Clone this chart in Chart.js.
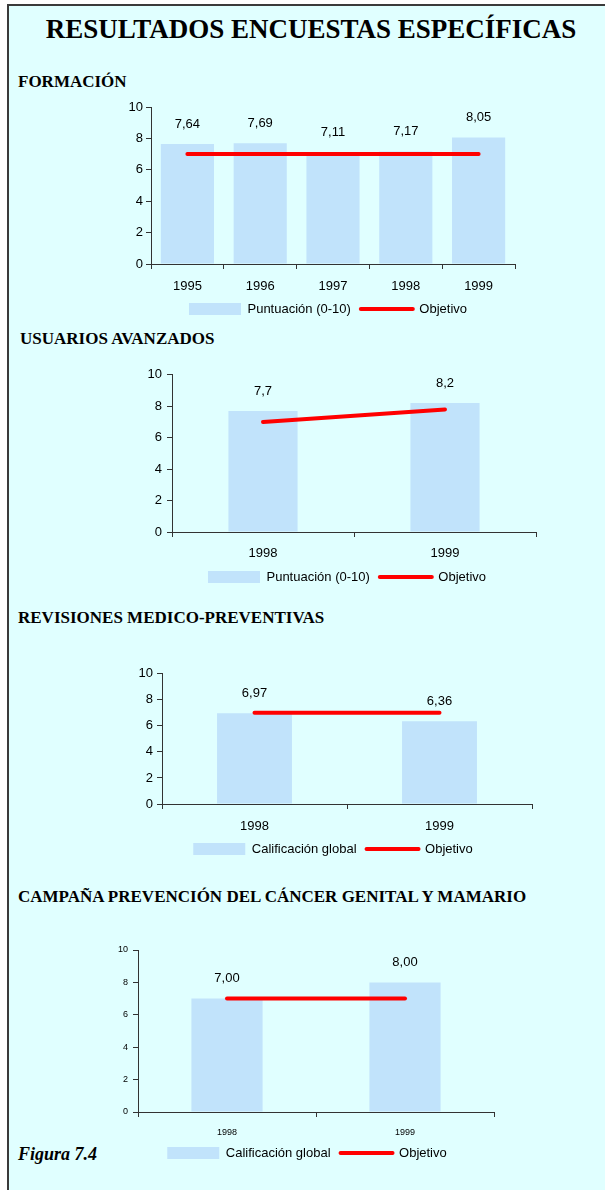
<!DOCTYPE html>
<html><head><meta charset="utf-8">
<script src="https://cdn.jsdelivr.net/npm/chart.js@4.4.0/dist/chart.umd.min.js"></script>
<style>
html,body{margin:0;padding:0;background:#fff;width:605px;height:1190px;overflow:hidden;position:relative;}
#frame{position:absolute;left:7px;top:4px;width:700px;height:1300px;border:2px solid #3a3a3a;background:#e0ffff;}
.h{position:absolute;font-family:"Liberation Serif","Times New Roman",serif;font-weight:bold;color:#000;line-height:1;white-space:nowrap;}
canvas{position:absolute;left:0;}
</style></head><body>
<div id="frame"></div>
<div class="h" style="left:0;width:622px;text-align:center;top:16px;font-size:27px">RESULTADOS ENCUESTAS ESPECÍFICAS</div>
<div class="h" style="left:18px;top:73px;font-size:17px">FORMACIÓN</div>
<div class="h" style="left:20px;top:330px;font-size:17px">USUARIOS AVANZADOS</div>
<div class="h" style="left:18px;top:609px;font-size:17px">REVISIONES MEDICO-PREVENTIVAS</div>
<div class="h" style="left:18px;top:888px;font-size:17px">CAMPAÑA PREVENCIÓN DEL CÁNCER GENITAL Y MAMARIO</div>
<div class="h" style="left:18px;top:1145px;font-size:18px;font-style:italic">Figura 7.4</div>
<canvas id="c1" width="605" height="230" style="top:95px"></canvas>
<canvas id="c2" width="605" height="228" style="top:362px"></canvas>
<canvas id="c3" width="605" height="200" style="top:662px"></canvas>
<canvas id="c4" width="605" height="240" style="top:938px"></canvas>
<script>
// ---- data ----
const formYears = ['1995', '1996', '1997', '1998', '1999'];
const formScores = [7.64, 7.69, 7.11, 7.17, 8.05];
const formTarget = [7, 7, 7, 7, 7];

const avzYears = ['1998', '1999'];
const avzScores = [7.7, 8.2];
const avzTarget = [7, 7.8];

const revYears = ['1998', '1999'];
const revScores = [6.97, 6.36];
const revTarget = [7, 7];

const camYears = ['1998', '1999'];
const camScores = [7.00, 8.00];
const camTarget = [7, 7];

const yMin = 0, yMax = 10, yStep = 2;

// ---- style ----
Chart.defaults.font.family = "'Liberation Sans', Arial, sans-serif";
Chart.defaults.color = '#000';
const BAR = '#c1e3fb';
const RED = '#ff0000';
const AXIS = '#333333';
const LEG_H = 2;

const valueLabels = {
  id: 'valueLabels',
  afterDatasetsDraw(chart, args, opts) {
    const meta = chart.getDatasetMeta(0);
    const ctx = chart.ctx;
    ctx.save();
    ctx.font = opts.font;
    ctx.fillStyle = '#000';
    ctx.textAlign = 'center';
    ctx.textBaseline = 'middle';
    meta.data.forEach((bar, i) => {
      const v = chart.data.datasets[0].data[i];
      ctx.fillText(v.toFixed(opts.decimals).replace('.', ','), bar.x, bar.y - opts.offset);
    });
    ctx.restore();
  }
};
const legendPlace = {
  id: 'legendPlace',
  afterLayout(chart, args, opts) {
    const lg = chart.legend;
    if (!lg) return;
    lg.left = opts.cx - 220;
    lg.right = opts.cx + 220;
    lg.width = 440;
    lg.top = opts.cy - 10 - 6.5;
    lg.bottom = lg.top + 40;
    lg.height = 40;
  }
};

function build(id, p) {
  const canvasTop = p.canvasTop;
  new Chart(document.getElementById(id), {
    type: 'bar',
    data: {
      labels: p.labels,
      datasets: [
        { type: 'bar', label: p.barName, data: p.scores, backgroundColor: BAR, borderWidth: 0,
          categoryPercentage: 1, barPercentage: p.barPct, order: 2 },
        { type: 'line', label: 'Objetivo', data: p.target, borderColor: RED, borderWidth: 4,
          borderCapStyle: 'round', pointRadius: 0, fill: false, tension: 0, order: 1 }
      ]
    },
    options: {
      responsive: false, animation: false, devicePixelRatio: 1,
      layout: { padding: { left: p.plotL - 50, right: 605 - p.plotR, top: p.plotT - canvasTop, bottom: p.canvasH - (p.plotB - canvasTop) - 30 - LEG_H } },
      scales: {
        x: {
          grid: { offset: true, drawOnChartArea: false, color: AXIS, tickLength: 5 },
          border: { display: true, color: AXIS, width: 1 },
          ticks: { font: { size: p.tickFont }, padding: p.xPad, color: '#000', maxRotation: 0 },
          afterFit: (s) => { s.height = 30; }
        },
        y: {
          min: yMin, max: yMax,
          grid: { drawOnChartArea: false, color: AXIS, tickLength: 5 },
          border: { display: true, color: AXIS, width: 1 },
          ticks: { stepSize: yStep, font: { size: p.tickFont }, padding: p.yPad, color: '#000' },
          afterFit: (s) => { s.width = 50; }
        }
      },
      plugins: {
        tooltip: { enabled: false },
        legend: {
          position: 'bottom',
          maxHeight: LEG_H,
          labels: {
            usePointStyle: true, pointStyleWidth: 52, boxHeight: 12, padding: 10,
            font: { size: 13 }, color: '#000',
            generateLabels: () => [
              { text: p.barName, fillStyle: BAR, strokeStyle: BAR, lineWidth: 0, pointStyle: 'rect', datasetIndex: 0, hidden: false },
              { text: 'Objetivo', fillStyle: RED, strokeStyle: RED, lineWidth: 4, lineCap: 'round', pointStyle: 'line', datasetIndex: 1, hidden: false }
            ]
          }
        },
        valueLabels: { font: "13px 'Liberation Sans', Arial, sans-serif", decimals: p.decimals, offset: 20 },
        legendPlace: { cx: p.legCx, cy: p.legCy - canvasTop }
      }
    },
    plugins: [valueLabels, legendPlace]
  });
}

build('c1', { labels: formYears, scores: formScores, target: formTarget, barName: 'Puntuación (0-10)',
  canvasTop: 95, canvasH: 230, plotL: 151, plotR: 515, plotT: 107, plotB: 264, barPct: 0.73,
  tickFont: 13, xPad: 10, yPad: 3, decimals: 2, legCx: 328, legCy: 309 });
build('c2', { labels: avzYears, scores: avzScores, target: avzTarget, barName: 'Puntuación (0-10)',
  canvasTop: 362, canvasH: 228, plotL: 172, plotR: 536, plotT: 374, plotB: 532, barPct: 0.38,
  tickFont: 13, xPad: 9, yPad: 5, decimals: 1, legCx: 347, legCy: 577 });
build('c3', { labels: revYears, scores: revScores, target: revTarget, barName: 'Calificación global',
  canvasTop: 662, canvasH: 200, plotL: 162, plotR: 532, plotT: 673, plotB: 804, barPct: 0.405,
  tickFont: 13, xPad: 10, yPad: 4, decimals: 2, legCx: 333, legCy: 849 });
build('c4', { labels: camYears, scores: camScores, target: camTarget, barName: 'Calificación global',
  canvasTop: 938, canvasH: 240, plotL: 138, plotR: 494, plotT: 950, plotB: 1112, barPct: 0.4,
  tickFont: 9, xPad: 10, yPad: 5, decimals: 2, legCx: 307, legCy: 1153 });
</script>
</body></html>
